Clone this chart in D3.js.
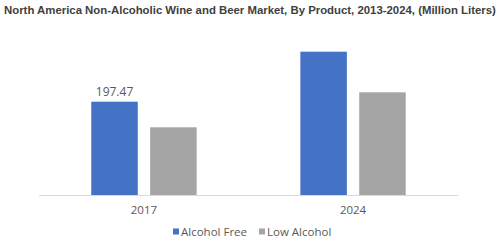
<!DOCTYPE html>
<html lang="en">
<head>
  <meta charset="UTF-8">
  <title>Non-Alcoholic Wine and Beer Market</title>
  <script src="https://cdn.jsdelivr.net/npm/d3@7/dist/d3.min.js"></script>
  <style>
    html, body { margin: 0; padding: 0; background: #fff; }
    svg { display: block; }
    .title { font-family: "Liberation Sans", Arial, sans-serif; font-weight: bold; font-size: 11.8px; fill: #404040; }
    .lbl { font-family: "Open Sans", "DejaVu Sans", sans-serif; font-size: 11.5px; fill: #595959; }
  </style>
</head>
<body>
  <svg width="500" height="245"></svg>
  <script>
    const years = ["2017", "2024"];
    const series = ["Alcohol Free", "Low Alcohol"];
    const alcoholFree = [197.47, 303.3];
    const lowAlcohol = [143.3, 217.3];
    const colors = ["#4472C4", "#A5A5A5"];

    const svg = d3.select("svg");
    const baseY = 195;

    const title = svg.append("text").attr("class", "title")
      .attr("x", 4).attr("y", 14)
      .text("North America Non-Alcoholic Wine and Beer Market, By Product, 2013-2024, (Million Liters)");
    // shrink if it does not fit
    const tw = title.node().getComputedTextLength();
    if (tw > 492) title.style("font-size", (11.8 * 492 / tw) + "px");

    const x0 = d3.scaleBand().domain(years).range([39, 458]).paddingInner(0.496).paddingOuter(0.25);
    const x1 = d3.scaleBand().domain(series).range([0, x0.bandwidth()]).paddingInner(0.21);
    const y = d3.scaleLinear().domain([0, 303.3]).range([baseY, 51.7]);

    const rows = years.map((yr, i) => ({ year: yr, vals: [alcoholFree[i], lowAlcohol[i]] }));

    const g = svg.append("g");
    rows.forEach(r => {
      g.selectAll(null).data(r.vals).enter().append("rect")
        .attr("x", (d, j) => x0(r.year) + x1(series[j]))
        .attr("y", d => y(d))
        .attr("width", x1.bandwidth())
        .attr("height", d => baseY - y(d))
        .attr("fill", (d, j) => colors[j]);
    });

    // data label only on 2017 alcohol free
    svg.append("text").attr("class", "lbl")
      .style("font-size", "12px")
      .attr("x", x0("2017") + x1("Alcohol Free") + x1.bandwidth() / 2)
      .attr("y", y(alcoholFree[0]) - 6)
      .attr("text-anchor", "middle")
      .text(d3.format(".2f")(alcoholFree[0]));

    svg.append("line")
      .attr("x1", 39).attr("x2", 458).attr("y1", baseY + 0.5).attr("y2", baseY + 0.5)
      .attr("stroke", "#D9D9D9").attr("stroke-width", 1);

    svg.selectAll(".xl").data(years).enter().append("text").attr("class", "lbl")
      .attr("x", d => x0(d) + x0.bandwidth() / 2)
      .attr("y", 214)
      .attr("text-anchor", "middle")
      .text(d => d);

    // legend
    const legX = [173, 259];
    const leg = svg.selectAll(".leg").data(series).enter().append("g")
      .attr("transform", (d, i) => `translate(${legX[i]},232)`);
    leg.append("rect").attr("x", 0).attr("y", -3.5).attr("width", 6).attr("height", 6)
      .attr("fill", (d, i) => colors[i]);
    leg.append("text").attr("class", "lbl")
      .attr("x", 8).attr("y", 4)
      .text(d => d);
  </script>
</body>
</html>
